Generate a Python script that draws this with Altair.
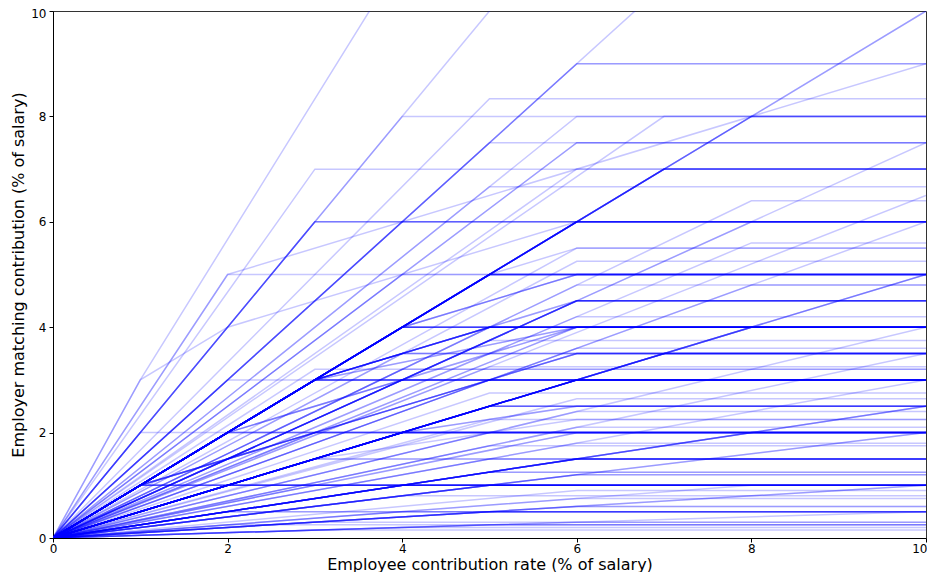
import altair as alt
import pandas as pd

# Simple plans: employer matches `match_rate` of each employee % up to `match_cap` %
match_rate = [1.0, 1.0, 1.0, 1.0, 1.0, 1.0, 1.0, 1.0, 1.0,
              0.5, 0.5, 0.5, 0.5, 0.5, 0.5, 0.5, 0.5,
              0.25, 0.25, 0.25, 0.25, 0.25, 0.25,
              0.75, 0.75, 0.75, 0.75,
              0.2, 0.2, 0.2, 0.2,
              0.1, 0.1, 0.1, 0.1,
              0.05, 0.05, 0.05, 0.05, 0.05,
              0.333, 0.333,
              0.4, 0.4, 0.4,
              0.6, 0.6, 0.6, 0.6,
              0.667, 0.667,
              0.3, 0.3, 0.3,
              0.35, 0.35, 0.35,
              0.125, 0.125, 0.15, 0.125, 0.125,
              0.45, 0.55, 0.44, 0.65, 0.75, 0.7, 0.7, 0.65,
              0.8, 0.8, 0.8, 0.8, 0.875, 0.875, 0.917,
              1.067, 1.143, 1.167,
              1.25, 1.25,
              1.333, 1.333,
              1.5, 1.5, 1.5, 1.5, 1.5,
              1.667,
              2.0, 2.0, 2.0, 2.0,
              2.5, 2.333]
match_cap = [1, 2, 3, 4, 5, 6, 7, 8, 10,
             2, 3, 4, 5, 6, 7, 8, 10,
             2, 4, 5, 6, 8, 10,
             4, 6, 8, 10,
             4, 5, 6, 10,
             3, 5, 6, 10,
             3, 4, 5, 6, 10,
             3, 6,
             5, 6, 10,
             5, 6, 8, 10,
             3, 6,
             5, 6, 10,
             5, 6, 10,
             6, 8, 6, 4, 2,
             5, 5, 6, 5, 5, 6, 8, 10,
             4, 5, 6, 8, 4, 6, 6,
             3, 7, 6,
             4, 6,
             5, 6,
             2, 4, 5, 6, 10,
             5,
             1, 3, 4, 10,
             2, 3]
plan_count = [5, 3, 5, 6, 6, 5, 4, 2, 2,
              2, 2, 4, 4, 8, 3, 3, 3,
              2, 2, 2, 5, 2, 3,
              1, 5, 1, 1,
              1, 3, 2, 2,
              1, 3, 2, 2,
              1, 1, 2, 1, 1,
              1, 2,
              1, 1, 1,
              1, 1, 1, 1,
              1, 2,
              1, 1, 1,
              1, 1, 1,
              1, 1, 1, 1, 1,
              1, 1, 1, 1, 1, 1, 1, 1,
              1, 1, 1, 1, 1, 1, 1,
              1, 1, 1,
              1, 2,
              1, 1,
              1, 1, 1, 2, 1,
              1,
              1, 3, 1, 1,
              1, 1]

# Tiered plans: breakpoints "employee%:employer%"
tier_points = ["3:3 5:4", "4:4 6:5", "3:3 4:3.5", "1:1 6:3.5", "2:2 6:4",
               "3:3 6:4", "1:3 2:4 6:6", "3:3 6:4.5", "2:2 4:3", "1:1 5:3",
               "4:2 6:2.5", "3:1.5 6:2.25", "2:5 10:9", "1:3 10:27",
               "1:1 3:2", "5:5 6:5.5"]
tier_count = [6, 3, 2, 4, 2, 2, 1, 2, 1, 1, 2, 1, 1, 1, 1, 1]

x_ticks = [0, 2, 4, 6, 8, 10]
y_ticks = [0, 2, 4, 6, 8, 10]

rows = []
pid = 0


def add_plan(points):
    global pid
    pts = [(0.0, 0.0)] + points
    if pts[-1][0] < 10:
        pts.append((10.0, pts[-1][1]))
    for k, (px, py) in enumerate(pts):
        rows.append({"plan": pid, "k": k, "x": px, "y": py})
    pid += 1


for r, c, n in zip(match_rate, match_cap, plan_count):
    for _ in range(n):
        add_plan([(float(c), r * c)])

for s, n in zip(tier_points, tier_count):
    pts = [tuple(float(v) for v in p.split(":")) for p in s.split()]
    for _ in range(n):
        add_plan(pts)

df = pd.DataFrame(rows)

chart = alt.Chart(df).mark_line(
    color="#0000ff", opacity=0.22, strokeWidth=1.5, clip=True
).encode(
    x=alt.X("x:Q", scale=alt.Scale(domain=[0, 10], nice=False, zero=False),
            axis=alt.Axis(values=x_ticks, title="Employee contribution rate (% of salary)",
                          format="d", labelFlush=False, labelPadding=1,
                          labelAlign=alt.expr("datum.value == 10 ? 'right' : 'center'"),
                          labelOffset=alt.expr("datum.value == 10 ? 1 : 0"),
                          titleY=31, titleBaseline="alphabetic")),
    y=alt.Y("y:Q", scale=alt.Scale(domain=[0, 10], nice=False, zero=False),
            axis=alt.Axis(values=y_ticks, title="Employer matching contribution (% of salary)",
                          format="d", titlePadding=4, labelFlush=False, labelPadding=3,
                          labelBaseline=alt.expr("datum.value == 10 ? 'top' : 'middle'"),
                          labelOffset=alt.expr("datum.value == 10 ? -3 : 0"))),
    detail="plan:N",
    order="k:O",
).properties(
    width=873, height=527,
    padding={"left": 45, "top": 3, "right": 1, "bottom": 34},
    autosize="none",
).configure_axis(
    grid=False,
    labelFont="DejaVu Sans", titleFont="DejaVu Sans",
    labelFontSize=12, titleFontSize=16, titleFontWeight="normal",
    labelColor="black", titleColor="black",
    domainColor="black", tickColor="black", tickSize=4,
    domainWidth=1,
).configure_view(
    stroke="#333333", strokeWidth=1
)

chart.save("out.html", embed_options={"renderer": "svg", "actions": False})
